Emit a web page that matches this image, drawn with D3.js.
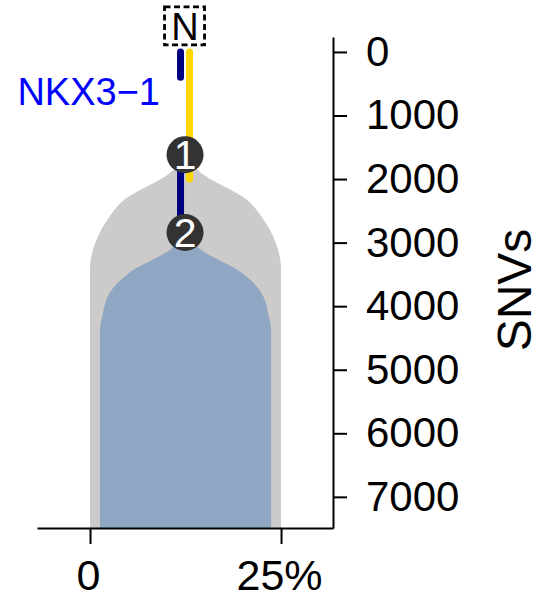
<!DOCTYPE html>
<html>
<head>
<meta charset="utf-8">
<script src="https://cdn.jsdelivr.net/npm/d3@7"></script>
<style>
  html, body { margin: 0; padding: 0; background: #ffffff; }
  svg { display: block; font-family: "Liberation Sans", Arial, sans-serif; }
</style>
</head>
<body>
<svg id="chart" width="553" height="599"></svg>
<script>
// ---------------- data ----------------
const yTickValues = [0, 1000, 2000, 3000, 4000, 5000, 6000, 7000];
const xTickValues = [0, 25];
const xTickLabels = ["0", "25%"];
const snvExtent = [-235, 7490];
const ccfExtent = [-6.94, 31.8];
const cloneCenter = 12.5;

// grey (clone 1) outline: SNVs vs half-width (%)
const greySnvs = [1617, 1900, 2323, 2637, 2998, 3422, 7490];
const greyHalfWidth = [0, 2.0, 8.0, 10.2, 11.8, 12.5, 12.5];
// blue (clone 2) outline
const blueSnvs = [2841, 3108, 3469, 3783, 4160, 4364, 7490];
const blueHalfWidth = [0, 2.0, 7.3, 9.9, 10.9, 11.2, 11.2];

// tree nodes
const nodeLabels = ["1", "2"];
const nodeSnvs = [1617, 2841];

// branch segments
const branchColors = ["#00007f", "#ffd700", "#00007f"];
const branchStart = [0, 0, 1617];
const branchEnd = [400, 2000, 2841];
const branchSide = [-1, 1, -1];

const driverLabel = "NKX3\u22121";
const rootLabel = "N";
const yAxisTitle = "SNVs";

// ---------------- layout ----------------
const svg = d3.select("#chart");
const y = d3.scaleLinear().domain(snvExtent).range([37, 528]);
const x = d3.scaleLinear().domain(ccfExtent).range([37, 333]);

const area = (snvs, hw) => d3.area()
  .y(d => y(d[0]))
  .x0(d => x(cloneCenter - d[1]))
  .x1(d => x(cloneCenter + d[1]))
  .curve(d3.curveMonotoneY)(snvs.map((s, i) => [s, hw[i]]));

svg.append("path").attr("d", area(greySnvs, greyHalfWidth)).attr("fill", "#cdcbca");
svg.append("path").attr("d", area(blueSnvs, blueHalfWidth)).attr("fill", "#8fa7c2");

// branches
const cx = x(cloneCenter) - 0.5;
branchColors.forEach((c, i) => {
  svg.append("line")
    .attr("x1", cx + branchSide[i] * 4.5).attr("x2", cx + branchSide[i] * 4.5)
    .attr("y1", y(branchStart[i])).attr("y2", y(branchEnd[i]))
    .attr("stroke", c).attr("stroke-width", 7).attr("stroke-linecap", "round");
});

// nodes
nodeLabels.forEach((lab, i) => {
  const g = svg.append("g").attr("transform", `translate(${cx},${y(nodeSnvs[i])})`);
  g.append("circle").attr("r", 18.5).attr("fill", "#333333");
  g.append("text").text(lab).attr("text-anchor", "middle").attr("dy", "0.36em")
    .attr("fill", "#ffffff").attr("font-size", 41);
});

// root N box
const rootY = y(0) - 26;
svg.append("rect").attr("x", cx - 20.5).attr("y", rootY - 19).attr("width", 40).attr("height", 38)
  .attr("fill", "none").attr("stroke", "#000").attr("stroke-width", 2.8)
  .attr("stroke-dasharray", "6,3.5");
svg.append("text").text(rootLabel).attr("x", cx).attr("y", rootY).attr("dy", "0.36em")
  .attr("text-anchor", "middle").attr("font-size", 38).attr("fill", "#000");

// driver label
svg.append("text").text(driverLabel).attr("x", 160).attr("y", 105)
  .attr("text-anchor", "end").attr("font-size", 38).attr("fill", "#0000ff");

// axes
const yAxis = d3.axisRight(y).tickValues(yTickValues).tickFormat(d3.format("d"))
  .tickSize(14).tickPadding(19).tickSizeOuter(0);
const gy = svg.append("g").attr("transform", "translate(333,0)").call(yAxis);
gy.selectAll("text").attr("font-size", 42).attr("font-family", "Liberation Sans, Arial, sans-serif").attr("fill", "#000");
gy.selectAll("line, path").attr("stroke", "#000").attr("stroke-width", 2);

const xAxis = d3.axisBottom(x).tickValues(xTickValues).tickFormat((d, i) => xTickLabels[i])
  .tickSize(16).tickPadding(15).tickSizeOuter(0);
const gx = svg.append("g").attr("transform", "translate(0,528)").call(xAxis);
gx.selectAll("text").attr("font-size", 43).attr("font-family", "Liberation Sans, Arial, sans-serif")
  .attr("fill", "#000").attr("dx", -2);
gx.selectAll("line, path").attr("stroke", "#000").attr("stroke-width", 2);

svg.append("text").text(yAxisTitle)
  .attr("transform", "translate(531,290) rotate(-90)")
  .attr("text-anchor", "middle").attr("font-size", 48).attr("fill", "#000");
</script>
</body>
</html>
